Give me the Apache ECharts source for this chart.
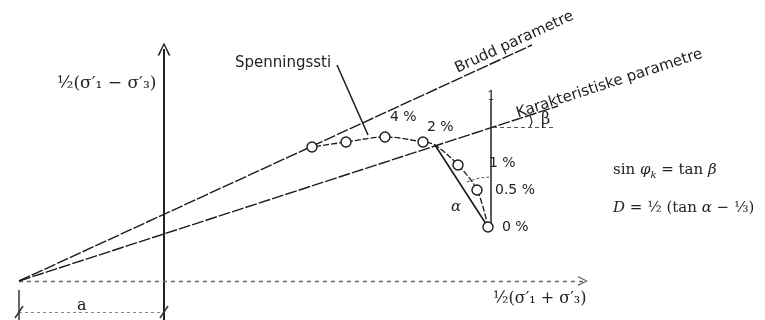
<!DOCTYPE html>
<html><head><meta charset="utf-8">
<script src="https://cdn.jsdelivr.net/npm/echarts@6/dist/echarts.min.js"></script>
<style>html,body{margin:0;padding:0;background:#fff}#c{width:765px;height:320px}</style>
</head><body><div id="c"></div>
<script>
// ---- data (abstract stress units: p' horizontal, q vertical; origin at axis crossing) ----
const aOffset = -14.5;                               // intercept "a" on the p' axis
const bruddLine = [[-14.5, 0], [36.8, 23.6]];        // failure parameters
const karakLine = [[-14.5, 0], [39.4, 17.5]];        // characteristic parameters
const pathPoints = [[32.4, 5.4], [31.3, 9.1], [29.4, 11.6], [25.9, 13.9], [22.1, 14.4], [18.2, 13.9], [14.8, 13.4]];
const pathCurve = [[32.4, 5.4], [31.3, 9.1], [29.4, 11.6], [27.1, 13.6], [25.9, 13.9], [22.1, 14.4], [18.2, 13.9], [14.8, 13.4]];
const chord = [[32.4, 5.4], [27.1, 13.6]];
const verticalRef = [[32.7, 5.4], [32.7, 18.1]];
const betaLeg = [[32.9, 15.4], [38.9, 15.4]];
const betaArc = [[36.6, 16.6], [36.8, 15.9], [36.6, 15.4]];
const alphaArc = [[30.3, 9.9], [31.5, 10.3], [32.6, 10.4]];
const leader = [[17.3, 21.6], [20.4, 14.6]];
const qAxis = [[0, -3.9], [0, 23.2]];
const pAxis = [[-14.5, 0], [41.9, 0]];
const dimLine = [[-14.5, -3.1], [0, -3.1]];
const dimTick = [[-14.5, -0.9], [-14.5, -3.9]];
const slashes = [[[-14.9, -3.7], [-14.1, -2.5]], [[-0.4, -3.7], [0.4, -2.5]]];
const strainLabels = ['0 %', '0.5 %', '1 %', '2 %', '4 %'];

const chart = echarts.init(document.getElementById('c'), null, {renderer: 'canvas'});
const ink = '#1a1a1a';
const chevron = 'path://M5,0 L10,12 L8.6,12 L5,2.8 L1.4,12 L0,12 Z';

const seg = (coords, ls, extra) => Object.assign({
  type: 'lines', coordinateSystem: 'cartesian2d', polyline: coords.length > 2,
  data: [{coords: coords}], symbol: 'none', silent: true,
  lineStyle: Object.assign({opacity: 1, curveness: 0}, ls), z: 2
}, extra || {});

const option = {
  backgroundColor: '#fff',
  animation: false,
  grid: {left: 0, right: 0, top: 0, bottom: 0},
  xAxis: {type: 'value', min: -16.4, max: 60.1, show: false},
  yAxis: {type: 'value', min: -3.9, max: 28.1, show: false},
  series: [
    seg(qAxis, {color: '#222', width: 2}, {symbol: ['none', chevron], symbolSize: [11, 13]}),
    seg(pAxis, {color: '#666', width: 1.3, type: [4, 4]}, {symbol: ['none', chevron], symbolSize: [9, 10]}),
    seg(bruddLine, {color: ink, width: 1.4, type: [12, 2]}),
    seg(karakLine, {color: ink, width: 1.4, type: [12, 2]}),
    seg(dimLine, {color: '#888', width: 1.2, type: [3, 3]}),
    seg(dimTick, {color: '#333', width: 1.5}),
    {type: 'lines', coordinateSystem: 'cartesian2d', data: slashes.map(c => ({coords: c})), symbol: 'none', silent: true,
     lineStyle: {color: '#333', width: 1.5, opacity: 1}},
    seg(verticalRef, {color: '#222', width: 1.5}),
    seg(betaLeg, {color: '#555', width: 1, type: [4, 3]}),
    seg(betaArc, {color: '#333', width: 1.2}),
    seg(alphaArc, {color: '#555', width: 1, type: [3, 2]}),
    seg(leader, {color: ink, width: 1.5}),
    seg(chord, {color: ink, width: 1.6}),
    {type: 'line', data: pathCurve, smooth: 0.35, symbol: 'none', silent: true,
     lineStyle: {color: ink, width: 1.3, type: [6, 2]}, z: 3},
    {type: 'scatter', data: pathPoints, symbol: 'circle', symbolSize: 10, silent: true,
     itemStyle: {color: '#fff', borderColor: ink, borderWidth: 1.4, opacity: 1}, z: 4}
  ]
};
chart.setOption(option);

const sans = '"DejaVu Sans", "Liberation Sans", sans-serif';
const serif = '"DejaVu Serif", "Liberation Serif", serif';
const txt = (text, x, y, size, family, extra) => Object.assign({
  type: 'text', x: x, y: y, silent: true, z: 10,
  style: Object.assign({text: text, fontSize: size, fontFamily: family, fill: '#222'}, (extra && extra.style) || {})
}, extra && extra.rotation !== undefined ? {rotation: extra.rotation, originX: 0, originY: 0} : {});

const g = [];
g.push(txt('Spenningssti', 235, 56, 15, sans));
g.push(txt('Brudd parametre', 459, 76, 15, sans, {rotation: Math.atan(0.46), style: {textVerticalAlign: 'bottom'}}));
g.push(txt('Karakteristiske parametre', 519, 121, 15, sans, {rotation: Math.atan(0.325), style: {textVerticalAlign: 'bottom'}}));
const lp = [[502, 220], [495, 183], [489, 156], [427, 120], [390, 110]];
strainLabels.forEach((s, i) => g.push(txt(s, lp[i][0], lp[i][1], 14, sans)));
g.push(txt('β', 541, 112, 16, serif));
g.push(txt('1', 487, 90, 13, serif));
g.push(txt('α', 451, 200, 15, serif, {style: {fontStyle: 'italic'}}));
g.push(txt('a', 77, 298, 16, serif));
g.push(txt('½(σ′₁ − σ′₃)', 57, 75, 17, serif));
g.push(txt('½(σ′₁ + σ′₃)', 493, 291, 16, serif));
g.push({type: 'text', x: 613, y: 160, silent: true, z: 10, style: {
  text: '{a|sin }{i|φ}{s|k}{a| = tan }{i|β}',
  rich: {a: {fontSize: 15, fontFamily: serif, fill: '#222', lineHeight: 20},
         i: {fontSize: 15, fontFamily: serif, fontStyle: 'italic', fill: '#222', lineHeight: 20},
         s: {fontSize: 10, fontFamily: serif, fontStyle: 'italic', fill: '#222', verticalAlign: 'bottom', lineHeight: 14}}}});
g.push({type: 'text', x: 613, y: 201, silent: true, z: 10, style: {
  text: '{i|D}{a| = ½ (tan }{i|α}{a| − ⅓)}',
  rich: {a: {fontSize: 15, fontFamily: serif, fill: '#222'},
         i: {fontSize: 15, fontFamily: serif, fontStyle: 'italic', fill: '#222'}}}});
chart.setOption({graphic: g});
</script></body></html>
